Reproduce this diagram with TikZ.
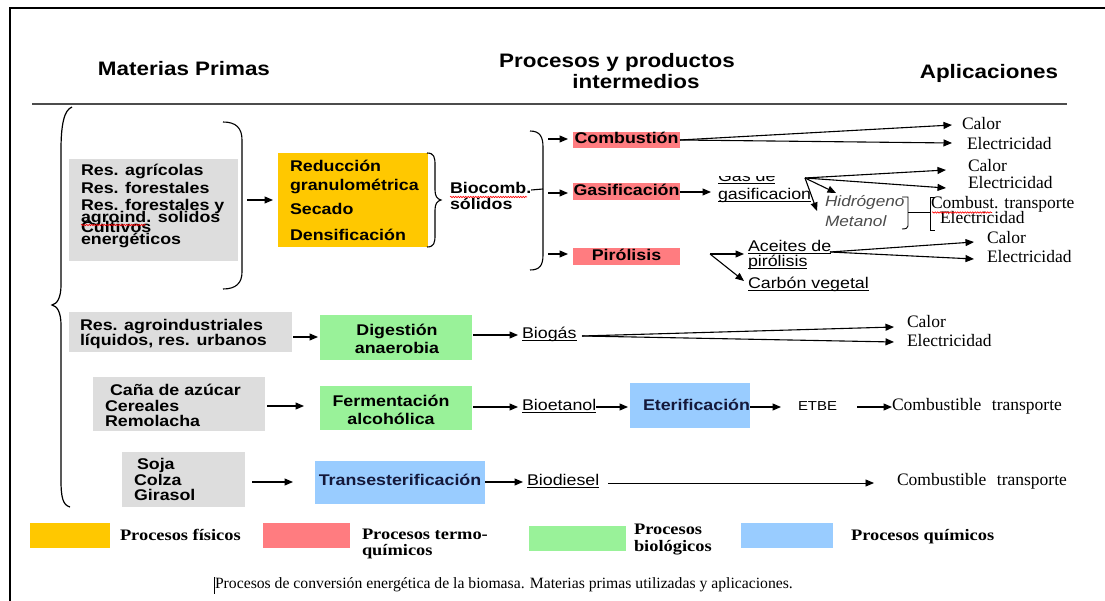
\documentclass[tikz,border=0pt]{standalone}
\usepackage{fontspec}
\setmainfont{Liberation Serif}
\newfontfamily\sfs{Liberation Sans}[FakeStretch=1.15]
\newfontfamily\srs{Liberation Serif}[FakeStretch=1.15]
\usetikzlibrary{arrows.meta,decorations.pathmorphing}
\definecolor{cyel}{HTML}{FFC800}
\definecolor{cred}{HTML}{FF7C80}
\definecolor{cgrn}{HTML}{99F299}
\definecolor{cblu}{HTML}{99CCFF}
\definecolor{cgry}{HTML}{DDDDDD}
\definecolor{cnavy}{HTML}{14183A}
\begin{document}
\begin{tikzpicture}[x=1pt,y=-1pt,
  box/.style={draw=none, inner sep=0pt, outer sep=0pt},
  lbl/.style={inner sep=0pt, outer sep=0pt, text height=0.7em, text depth=0pt},
  sb/.style={lbl, font=\sfs\bfseries\fontsize{15.5}{15.5}\selectfont},
  sr/.style={lbl, font=\sfs\fontsize{15.5}{15.5}\selectfont},
  si/.style={lbl, font=\sfs\itshape\fontsize{15}{15}\selectfont, text=black!70},
  tr/.style={lbl, font=\fontsize{17.5}{17.5}\selectfont},
  hd/.style={lbl, font=\sfs\bfseries\fontsize{19.5}{19.5}\selectfont},
  lg/.style={lbl, font=\srs\bfseries\fontsize{16}{16}\selectfont},
  bt/.style={box, font=\sfs\bfseries\fontsize{15.5}{15.5}\selectfont, text height=0.72em, text depth=0pt},
  arr/.style={-{Triangle[length=8.5pt,width=7pt]}, line width=1.1pt},
  ln/.style={line width=1.1pt},
  ul/.style={line width=0.8pt},
  squig/.style={red, line width=0.6pt, decorate, decoration={snake, amplitude=0.7pt, segment length=2.5pt}},
]
\useasboundingbox (0,0) rectangle (1105,601);
\fill[white] (0,0) rectangle (1105,601);
% frame
\draw[line width=2pt] (10,601) -- (10,8) -- (1105,8);
% headers
\node[hd] (h1) at (184,72) {Materias Primas};
\node[hd] (h2) at (617,64) {Procesos y productos};
\node[hd] (h3) at (636,85) {intermedios};
\node[hd] (h4) at (989,75) {Aplicaciones};
\draw[line width=1.2pt, black!70] (32,104) -- (1067,104);
% big brace
\draw[line width=1.2pt] (72,107) .. controls (64,110) and (61,125) .. (61,150) -- (61,285) .. controls (61,298) and (57,304) .. (52,305) .. controls (57,306) and (61,312) .. (61,325) -- (61,480) .. controls (61,498) and (63,505) .. (70,507);

% ===== group 1 =====
\node[box, fill=cgry, minimum width=169pt, minimum height=102pt] (g1) at (153.5,210) {};
\node[sb, anchor=west] (g1a) at (81,172) {Res. agrícolas};
\node[sb, anchor=west] (g1b) at (81,190) {Res. forestales};
\node[sb, anchor=west] (g1c) at (81,207) {Res. forestales y};
\node[sb, anchor=west] (g1d) at (81,219) {agroind. solidos};
\node[sb, anchor=west] (g1e) at (81,229) {Cultivos};
\node[sb, anchor=west] (g1f) at (81,241) {energéticos};
\draw[squig] (81,225) -- (146,225);
\draw[ln] (223,122) .. controls (236,122) and (242,128) .. (242,140) -- (242,272) .. controls (242,283) and (236,289) .. (223,289);
\node[box, fill=cyel, minimum width=150pt, minimum height=94pt] (y1) at (353,200) {};
\node[sb, anchor=west] (y1a) at (290,168) {Reducción};
\node[sb, anchor=west] (y1b) at (290,187) {granulométrica};
\node[sb, anchor=west] (y1c) at (290,211) {Secado};
\node[sb, anchor=west] (y1d) at (290,237) {Densificación};
\coordinate (a1s) at (247,200);
\draw[arr, shorten >=5pt] (a1s) -- (a1s -| y1.west);
\draw[ln] (427,153) .. controls (434,153) and (435,157) .. (435,165) -- (435,190) .. controls (435,196) and (437,199) .. (441,200) .. controls (437,201) and (435,204) .. (435,210) -- (435,235) .. controls (435,243) and (434,247) .. (427,247);
\node[sb, anchor=west] (bio1) at (450,190) {Biocomb.};
\node[sb, anchor=west] (bio2) at (450,206) {sólidos};
\draw[squig] (450,197) -- (527,197);
\coordinate (b2m) at (543,189);
\draw[ln] (bio1.east) -- (b2m);
\draw[ln] (530,131) .. controls (540,131) and (543,137) .. (543,147) -- (543,255) .. controls (543,265) and (540,270) .. (530,270);
% thermochemical boxes
\node[bt, fill=cred, minimum width=107pt, minimum height=16pt] (comb) at (626.5,140) {Combustión};
\node[bt, fill=cred, minimum width=107pt, minimum height=17pt] (gasi) at (626.5,191.5) {Gasificación};
\node[bt, fill=cred, minimum width=107pt, minimum height=17pt] (piro) at (626.5,256.5) {Pirólisis};
\coordinate (ac) at (548,139);
\coordinate (ag) at (548,193);
\coordinate (ap) at (548,254);
\draw[arr, shorten >=5pt] (ac) -- (ac -| comb.west);
\draw[arr, shorten >=5pt] (ag) -- (ag -| gasi.west);
\draw[arr, shorten >=5pt] (ap) -- (ap -| piro.west);
% combustion outputs
\node[tr, anchor=west] (cal1) at (962,126) {Calor};
\node[tr, anchor=west] (ele1) at (967,146) {Electricidad};
\coordinate (cC) at (952,125);
\coordinate (cE) at (952,143);
\draw[arr] (comb.east) -- (cC);
\draw[arr] (comb.east) -- (cE);
% gasification
\begin{scope}
\clip (700,176.5) rectangle (800,200);
\node[sr, anchor=west] (gas1) at (718,178) {Gas de};
\draw[ul] ([yshift=-2pt]gas1.south west) -- ([yshift=-2pt]gas1.south east);
\end{scope}
\node[sr, anchor=west] (gas2) at (718,196) {gasificacion};
\draw[ul] ([yshift=-2pt]gas2.south west) -- ([yshift=-2pt]gas2.south east);
\coordinate (gA) at (711,192);
\draw[arr] (gasi.east |- gA) -- (gA);
\coordinate (G) at (805,178);
\node[tr, anchor=west] (cal2) at (968,168) {Calor};
\node[tr, anchor=west] (ele2) at (968,185) {Electricidad};
\coordinate (gC) at (946,170);
\coordinate (gE) at (946,188);
\coordinate (gH) at (836,193);
\coordinate (gM) at (817,211);
\draw[arr] (G) -- (gC);
\draw[arr] (G) -- (gE);
\draw[arr] (G) -- (gH);
\draw[arr] (G) -- (gM);
\node[si, anchor=west] (hid) at (825,203) {Hidrógeno};
\node[si, anchor=west] (met) at (825,223) {Metanol};
\draw[line width=0.9pt] (902,197) -- (908,197) -- (908,226) .. controls (908,228) and (906,229) .. (902,229);
\coordinate (bk1) at (908,212);
\coordinate (bk2) at (930,212);
\draw[line width=0.9pt] (bk1) -- (bk2);
\draw[line width=0.9pt] (935,197) -- (930,197) -- (930,230) -- (935,230);
\node[tr, anchor=west] (ctr1) at (931,205) {Combust. transporte};
\node[tr, anchor=west] (ele3) at (940,220) {Electricidad};
\draw[squig] (932,212.5) -- (992,212.5);
% pyrolysis
\coordinate (P) at (710,254);
\coordinate (pA) at (744,254);
\coordinate (pC) at (744,281);
\draw[arr] (P) -- (pA);
\draw[arr] (P) -- (pC);
\node[sr, anchor=west] (ace1) at (748,248) {Aceites de};
\node[sr, anchor=west] (ace2) at (748,263) {pirólisis};
\node[sr, anchor=west] (carb) at (748,285) {Carbón vegetal};
\draw[ul] ([yshift=-2pt]ace1.south west) -- ([yshift=-2pt]ace1.south east);
\draw[ul] ([yshift=-2pt]ace2.south west) -- ([yshift=-2pt]ace2.south east);
\draw[ul] ([yshift=-2pt]carb.south west) -- ([yshift=-2pt]carb.south east);
\coordinate (A) at (830,252);
\node[tr, anchor=west] (cal3) at (987,240) {Calor};
\node[tr, anchor=west] (ele4) at (987,259) {Electricidad};
\coordinate (aC) at (974,242);
\coordinate (aE) at (974,259);
\draw[arr] (A) -- (aC);
\draw[arr] (A) -- (aE);

% ===== group 2 =====
\node[box, fill=cgry, minimum width=223pt, minimum height=40pt] (g2) at (180.5,332) {};
\node[sb, anchor=west] (g2a) at (80,327) {Res. agroindustriales};
\node[sb, anchor=west] (g2b) at (80,342) {líquidos, res. urbanos};
\node[box, fill=cgrn, minimum width=152pt, minimum height=45pt] (gr1) at (396,337.5) {};
\node[sb] (gr1a) at (397,332) {Digestión};
\node[sb] (gr1b) at (397,350) {anaerobia};
\coordinate (a2s) at (293,337);
\draw[arr, shorten >=2pt] (a2s) -- (a2s -| gr1.west);
\node[sr, anchor=west] (biog) at (522,335) {Biogás};
\draw[ul] ([yshift=-2pt]biog.south west) -- ([yshift=-2pt]biog.south east);
\draw[arr, shorten >=4pt, shorten <=1pt] (gr1.east |- biog.west) -- (biog.west);
\coordinate (bgo) at (582,336);
\node[tr, anchor=west] (cal4) at (907,324) {Calor};
\node[tr, anchor=west] (ele5) at (907,343) {Electricidad};
\coordinate (bC) at (894,327);
\coordinate (bE) at (894,342);
\draw[arr] (bgo) -- (bC);
\draw[arr] (bgo) -- (bE);

% ===== group 3 =====
\node[box, fill=cgry, minimum width=172pt, minimum height=54pt] (g3) at (179,404) {};
\node[sb, anchor=west] (g3a) at (110,392) {Caña de azúcar};
\node[sb, anchor=west] (g3b) at (105,408) {Cereales};
\node[sb, anchor=west] (g3c) at (105,423) {Remolacha};
\node[box, fill=cgrn, minimum width=152pt, minimum height=44pt] (gr2) at (396,408) {};
\node[sb] (gr2a) at (391,403) {Fermentación};
\node[sb] (gr2b) at (391,421) {alcohólica};
\coordinate (a3s) at (267,406);
\draw[arr, shorten >=16pt] (a3s) -- (a3s -| gr2.west);
\node[sr, anchor=west] (bioe) at (522,407) {Bioetanol};
\draw[ul] ([yshift=-2pt]bioe.south west) -- ([yshift=-2pt]bioe.south east);
\draw[arr, shorten >=4pt, shorten <=1pt] (gr2.east |- bioe.west) -- (bioe.west);
\node[box, fill=cblu, minimum width=120pt, minimum height=45pt] (et) at (690,405.5) {};
\node[sb, anchor=west, text=cnavy] (ett) at (643,407) {Eterificación};
\draw[arr, shorten >=2pt] (bioe.east) -- (bioe.east -| et.west);
\coordinate (etA) at (781,407);
\draw[arr] (ett.east) -- (etA);
\node[lbl, anchor=west, font=\sfs\fontsize{13}{13}\selectfont] (etbe) at (798,407) {ETBE};
\node[tr, anchor=west] (ct2) at (892,407) {Combustible\hspace{0.35em} transporte};
\coordinate (eS) at (857,407);
\draw[arr] (eS) -- (ct2.west);

% ===== group 4 =====
\node[box, fill=cgry, minimum width=123pt, minimum height=55pt] (g4) at (183.5,479.5) {};
\node[sb, anchor=west] (g4a) at (137,466) {Soja};
\node[sb, anchor=west] (g4b) at (134,482) {Colza};
\node[sb, anchor=west] (g4c) at (134,497) {Girasol};
\node[box, fill=cblu, minimum width=170pt, minimum height=43pt] (bl2) at (400,482.5) {};
\node[sb, text=cnavy] (bl2t) at (400,482) {Transesterificación};
\coordinate (a4s) at (252,482);
\draw[arr, shorten >=22pt] (a4s) -- (a4s -| bl2.west);
\node[sr, anchor=west] (biod) at (527,482) {Biodiesel};
\draw[ul] ([yshift=-2pt]biod.south west) -- ([yshift=-2pt]biod.south east);
\draw[arr, shorten >=4pt] (bl2.east |- biod.west) -- (biod.west);
\coordinate (dS) at (608,483);
\coordinate (dE) at (874,483);
\draw[arr, line width=0.9pt] (dS) -- (dE);
\node[tr, anchor=west] (ct3) at (897,482) {Combustible\hspace{0.35em} transporte};

% ===== legend =====
\node[box, fill=cyel, minimum width=80pt, minimum height=25pt] (lg1) at (70,535.5) {};
\node[lg, anchor=west] (lg1t) at (120,537) {Procesos físicos};
\node[box, fill=cred, minimum width=87pt, minimum height=25pt] (lg2) at (306.5,535.5) {};
\node[lg, anchor=west] (lg2t) at (362,536) {Procesos termo-};
\node[lg, anchor=west] (lg2u) at (362,552) {químicos};
\node[box, fill=cgrn, minimum width=97pt, minimum height=25pt] (lg3) at (577.5,538) {};
\node[lg, anchor=west] (lg3t) at (634,531) {Procesos};
\node[lg, anchor=west] (lg3u) at (634,548) {biológicos};
\node[box, fill=cblu, minimum width=92pt, minimum height=25pt] (lg4) at (787,535.5) {};
\node[lg, anchor=west] (lg4t) at (851,537) {Procesos químicos};
% caption
\draw[line width=0.5pt] (214,577) -- (214,594);
\node[lbl, anchor=west, font=\fontsize{15.7}{15.7}\selectfont] (cap) at (215,585) {Procesos de conversión energética de la biomasa. Materias primas utilizadas y aplicaciones.};
\end{tikzpicture}
\end{document}
